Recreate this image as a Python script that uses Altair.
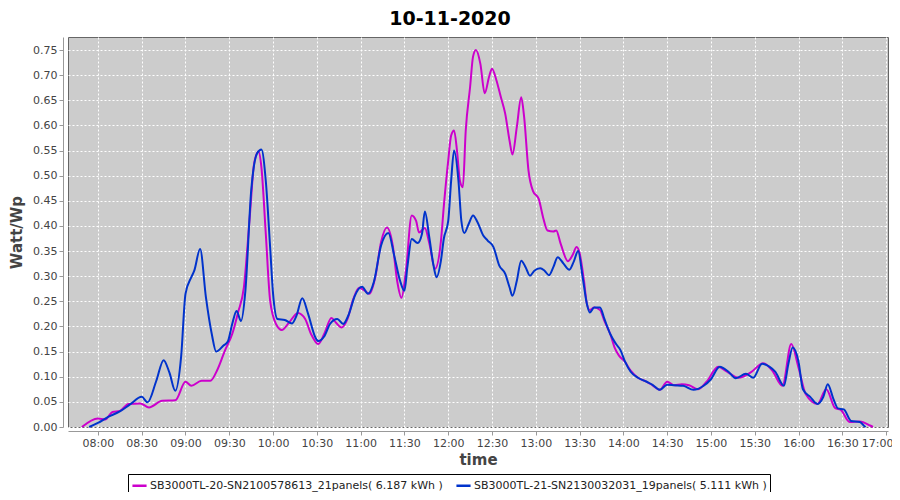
import altair as alt
import pandas as pd

DAY = "2020-11-10"

name_a = "SB3000TL-20-SN2100578613_21panels( 6.187 kWh )"
name_b = "SB3000TL-21-SN2130032031_19panels( 5.111 kWh )"

times_a = ["07:49", "08:00", "08:05", "08:10", "08:15", "08:21", "08:29", "08:35", "08:44", "08:53",
           "09:00", "09:04", "09:11", "09:17", "09:22", "09:27", "09:32", "09:36", "09:40", "09:44",
           "09:47", "09:50", "09:52", "09:55", "09:58", "10:02", "10:06", "10:11", "10:17", "10:22",
           "10:26", "10:31", "10:35", "10:40", "10:43", "10:47", "10:51", "10:55", "10:59", "11:03",
           "11:06", "11:10", "11:14", "11:18", "11:22", "11:25", "11:28", "11:31", "11:35", "11:38",
           "11:40", "11:44", "11:47", "11:51", "11:55", "11:57", "12:00", "12:02", "12:04", "12:06",
           "12:08", "12:10", "12:12", "12:15", "12:17", "12:19", "12:22", "12:25", "12:28", "12:30",
           "12:33", "12:36", "12:39", "12:42", "12:44", "12:47", "12:50", "12:52", "12:55", "12:58",
           "13:02", "13:05", "13:08", "13:12", "13:14", "13:17", "13:22", "13:25", "13:28", "13:30",
           "13:33", "13:35", "13:37", "13:40", "13:44", "13:47", "13:51", "13:54", "13:57", "14:01",
           "14:05", "14:10", "14:16", "14:20", "14:25", "14:30", "14:35", "14:40", "14:45", "14:51",
           "14:57", "15:05", "15:11", "15:19", "15:27", "15:36", "15:42", "15:49", "15:55", "16:00",
           "16:05", "16:13", "16:19", "16:25", "16:29", "16:35", "16:42", "16:49", "16:51"]
vals_a = [0.0, 0.017, 0.015, 0.030, 0.032, 0.046, 0.047, 0.039, 0.052, 0.053,
          0.090, 0.082, 0.092, 0.092, 0.115, 0.152, 0.185, 0.228, 0.278, 0.417,
          0.524, 0.548, 0.517, 0.385, 0.251, 0.205, 0.193, 0.208, 0.227, 0.215,
          0.185, 0.165, 0.185, 0.217, 0.208, 0.198, 0.215, 0.255, 0.277, 0.271,
          0.265, 0.298, 0.368, 0.397, 0.361, 0.291, 0.257, 0.310, 0.421, 0.410,
          0.387, 0.396, 0.366, 0.315, 0.370, 0.440, 0.530, 0.580, 0.590, 0.550,
          0.490, 0.477, 0.590, 0.677, 0.737, 0.750, 0.723, 0.664, 0.697, 0.713,
          0.690, 0.657, 0.624, 0.570, 0.542, 0.597, 0.656, 0.617, 0.510, 0.470,
          0.454, 0.417, 0.391, 0.389, 0.391, 0.365, 0.330, 0.341, 0.358, 0.346,
          0.291, 0.245, 0.233, 0.238, 0.233, 0.211, 0.185, 0.158, 0.142, 0.130,
          0.112, 0.098, 0.090, 0.083, 0.074, 0.090, 0.083, 0.085, 0.083, 0.075,
          0.090, 0.120, 0.110, 0.098, 0.108, 0.127, 0.112, 0.082, 0.165, 0.118,
          0.065, 0.046, 0.075, 0.038, 0.034, 0.010, 0.011, 0.003, 0.0]

times_b = ["07:54", "08:00", "08:07", "08:15", "08:22", "08:30", "08:34", "08:40", "08:45", "08:49",
           "08:53", "08:57", "09:00", "09:04", "09:06", "09:10", "09:14", "09:18", "09:21", "09:26",
           "09:29", "09:32", "09:35", "09:38", "09:41", "09:45", "09:49", "09:52", "09:55", "09:58",
           "10:00", "10:03", "10:08", "10:13", "10:16", "10:20", "10:24", "10:29", "10:31", "10:35",
           "10:39", "10:44", "10:48", "10:52", "10:56", "11:01", "11:05", "11:09", "11:14", "11:19",
           "11:23", "11:27", "11:30", "11:32", "11:35", "11:39", "11:42", "11:44", "11:47", "11:50",
           "11:52", "11:55", "11:57", "12:00", "12:02", "12:04", "12:07", "12:09", "12:11", "12:14",
           "12:17", "12:20", "12:24", "12:27", "12:31", "12:35", "12:39", "12:42", "12:44", "12:47",
           "12:50", "12:53", "12:56", "12:59", "13:03", "13:06", "13:09", "13:12", "13:15", "13:19",
           "13:23", "13:26", "13:29", "13:32", "13:35", "13:37", "13:40", "13:44", "13:47", "13:51",
           "13:55", "13:58", "14:01", "14:05", "14:10", "14:16", "14:20", "14:25", "14:30", "14:35",
           "14:41", "14:48", "14:55", "15:00", "15:06", "15:12", "15:17", "15:24", "15:29", "15:35",
           "15:40", "15:44", "15:50", "15:53", "15:56", "16:00", "16:03", "16:08", "16:13", "16:17",
           "16:20", "16:24", "16:27", "16:31", "16:36", "16:42", "16:45", "16:46"]
vals_b = [0.0, 0.008, 0.020, 0.031, 0.045, 0.060, 0.049, 0.092, 0.133, 0.108,
          0.072, 0.140, 0.265, 0.298, 0.311, 0.354, 0.258, 0.185, 0.150, 0.162,
          0.170, 0.205, 0.231, 0.211, 0.270, 0.470, 0.544, 0.552, 0.490, 0.357,
          0.265, 0.215, 0.213, 0.206, 0.221, 0.256, 0.225, 0.178, 0.171, 0.180,
          0.205, 0.215, 0.205, 0.225, 0.261, 0.279, 0.265, 0.288, 0.361, 0.386,
          0.341, 0.291, 0.271, 0.318, 0.374, 0.366, 0.384, 0.429, 0.378, 0.320,
          0.298, 0.331, 0.375, 0.410, 0.490, 0.550, 0.490, 0.410, 0.386, 0.404,
          0.421, 0.408, 0.381, 0.371, 0.358, 0.321, 0.305, 0.278, 0.261, 0.291,
          0.331, 0.318, 0.301, 0.311, 0.316, 0.311, 0.302, 0.318, 0.338, 0.325,
          0.313, 0.329, 0.350, 0.300, 0.245, 0.228, 0.238, 0.238, 0.215, 0.185,
          0.165, 0.153, 0.131, 0.110, 0.098, 0.090, 0.084, 0.074, 0.084, 0.083,
          0.082, 0.074, 0.082, 0.095, 0.120, 0.110, 0.097, 0.106, 0.098, 0.126,
          0.120, 0.110, 0.082, 0.125, 0.158, 0.130, 0.075, 0.060, 0.046, 0.060,
          0.085, 0.055, 0.037, 0.035, 0.012, 0.010, 0.002, 0.0]

y_ticks = [0.00, 0.05, 0.10, 0.15, 0.20, 0.25, 0.30, 0.35, 0.40, 0.45,
           0.50, 0.55, 0.60, 0.65, 0.70, 0.75]

series_names = [name_a, name_b]
series_colors = ["#CC00CC", "#0033CC"]


def to_minutes(hhmm):
    h, m = hhmm.split(":")
    return int(h) * 60 + int(m)


rows = []
for t, v in zip(times_a, vals_a):
    rows.append({"minute": to_minutes(t), "value": v, "series": name_a})
for t, v in zip(times_b, vals_b):
    rows.append({"minute": to_minutes(t), "value": v, "series": name_b})
df = pd.DataFrame(rows)
# timestamps in UTC milliseconds, displayed in UTC so no timezone shift
base = pd.Timestamp(DAY, tz="UTC")
df["ts"] = [int((base + pd.Timedelta(minutes=int(m))).timestamp() * 1000) for m in df["minute"]]

x_min = int((base + pd.Timedelta(minutes=459.5)).timestamp() * 1000)
x_max = int((base + pd.Timedelta(minutes=1021.3)).timestamp() * 1000)
x_tick_vals = [int((base + pd.Timedelta(minutes=m)).timestamp() * 1000)
               for m in range(480, 1021, 30)]
last_tick = x_tick_vals[-1]

FONT = "DejaVu Sans"

chart = alt.Chart(df).mark_line(
    interpolate="monotone", strokeWidth=2.0
).encode(
    x=alt.X(
        "ts:Q",
        title="time",
        scale=alt.Scale(domain=[x_min, x_max], nice=False, zero=False),
        axis=alt.Axis(
            values=x_tick_vals,
            labelExpr="utcFormat(datum.value, '%H:%M')",
            labelOffset=alt.ExprRef(expr=f"datum.value >= {last_tick} ? -9 : 0"),
            labelOverlap=False,
            labelFlush=False,
            offset=4,
            titlePadding=4,
        ),
    ),
    y=alt.Y(
        "value:Q",
        title="Watt/Wp",
        scale=alt.Scale(domain=[0, 0.776], nice=False, zero=True),
        axis=alt.Axis(values=y_ticks, format=".2f", offset=5, titlePadding=8),
    ),
    color=alt.Color(
        "series:N",
        scale=alt.Scale(domain=series_names, range=series_colors),
        legend=alt.Legend(
            title=None,
            orient="none",
            direction="horizontal",
            legendX=60,
            legendY=437,
            symbolType="stroke",
            symbolStrokeWidth=2.5,
            symbolSize=200,
            labelFont=FONT,
            labelFontSize=11,
            labelLimit=500,
            labelColor="#222222",
            strokeColor="black",
            fillColor="white",
            padding=3,
            columnPadding=8,
            labelOffset=2,
        ),
    ),
).properties(
    width=820,
    height=390,
    autosize="none",
    padding={"left": 60, "top": 29, "right": 4, "bottom": 65},
    title=alt.TitleParams(
        "10-11-2020", font=FONT, fontSize=19, fontWeight="bold",
        color="black", anchor="middle", offset=8, dx=-28,
    ),
).configure_view(
    fill="#CCCCCC", stroke="#666666", strokeWidth=1
).configure_axis(
    labelFont=FONT,
    labelFontSize=11,
    labelColor="#444444",
    titleFont=FONT,
    titleFontSize=15,
    titleFontWeight="bold",
    titleColor="#444444",
    domainColor="#999999",
    tickColor="#999999",
    tickSize=4,
    grid=True,
    gridColor="white",
    gridDash=[2, 2],
    gridWidth=1,
    gridOpacity=1,
)

chart.save("out.html", embed_options={"renderer": "svg", "actions": False})
